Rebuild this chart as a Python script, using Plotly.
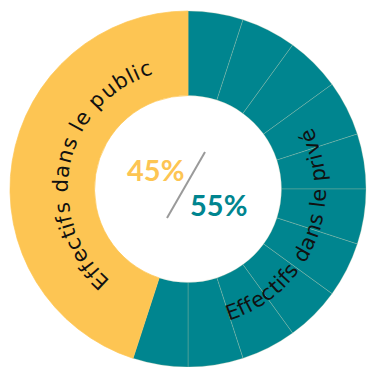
import plotly.graph_objects as go
import math

# ---- data ----
segment_labels = ["Privé 1", "Privé 2", "Privé 3", "Privé 4", "Privé 5", "Privé 6",
                  "Privé 7", "Privé 8", "Privé 9", "Privé 10", "Privé 11", "Public"]
segment_values = [5, 5, 5, 5, 5, 5, 5, 5, 5, 5, 5, 45]
public_share = 45
private_share = 55
public_text = "Effectifs dans le public"
private_text = "Effectifs dans le privé"

# ---- style ----
W, H = 368, 367
TEAL = "#00858F"
YELLOW = "#FDC553"
dom_x = [10 / W, 366 / W]
dom_y = [0.0, 356 / H]
cx = (dom_x[0] + dom_x[1]) / 2 * W
cy = (1 - (dom_y[0] + dom_y[1]) / 2) * H

colors = [TEAL if l != "Public" else YELLOW for l in segment_labels]
line_colors = ["rgba(185,200,170,0.4)" if l != "Public" else YELLOW for l in segment_labels]

fig = go.Figure(go.Pie(
    labels=segment_labels, values=segment_values, sort=False, direction="clockwise",
    rotation=0, hole=0.525, textinfo="none", hoverinfo="skip",
    marker=dict(colors=colors, line=dict(color=line_colors, width=0.7)),
    domain=dict(x=dom_x, y=dom_y), showlegend=False,
))

# approximate glyph advance widths (em)
WID = {"E": .632, "f": .352, "e": .615, "c": .550, "t": .392, "i": .278, "s": .521,
       " ": .318, "d": .635, "a": .613, "n": .634, "l": .278, "p": .635, "u": .634,
       "b": .635, "r": .411, "v": .592, "é": .615}

annotations = []

def arc_text(text, r, th0, th1, tops_out, size):
    w = [WID.get(ch, .6) for ch in text]
    centers = []
    acc = 0
    for wi in w:
        centers.append(acc + wi / 2)
        acc += wi
    c0, c1 = centers[0], centers[-1]
    for ch, c in zip(text, centers):
        th = th0 + (th1 - th0) * (c - c0) / (c1 - c0)
        t = math.radians(th)
        px = cx + r * math.sin(t)
        py = cy - r * math.cos(t)
        ang = th if tops_out else th + 180
        ang = ((ang + 180) % 360) - 180
        if ch == " ":
            continue
        annotations.append(dict(
            x=px / W, y=1 - py / H, xref="paper", yref="paper", text=ch,
            showarrow=False, textangle=ang, xanchor="center", yanchor="middle",
            font=dict(family="DejaVu Sans", size=size, color="#111111"),
        ))

arc_text(public_text, 127, 223.5, 340.6, True, 21)
arc_text(private_text, 131, 160.2, 66.4, False, 21)

annotations.append(dict(x=155 / W, y=1 - 169 / H, xref="paper", yref="paper",
                        text=f"<b>{public_share}%</b>", showarrow=False,
                        xanchor="center", yanchor="middle",
                        font=dict(family="Lato", size=29, color=YELLOW)))
annotations.append(dict(x=218 / W, y=1 - 204 / H, xref="paper", yref="paper",
                        text=f"<b>{private_share}%</b>", showarrow=False,
                        xanchor="center", yanchor="middle",
                        font=dict(family="Lato", size=29, color=TEAL)))

fig.update_layout(
    width=W, height=H, margin=dict(l=0, r=0, t=0, b=0),
    paper_bgcolor="white", plot_bgcolor="white",
    annotations=annotations,
    shapes=[dict(type="line", xref="paper", yref="paper",
                 x0=205 / W, y0=1 - 152 / H, x1=167 / W, y1=1 - 218 / H,
                 line=dict(color="#9a9a9a", width=2))],
)

fig.write_html("out.html", config={"displayModeBar": False},
               post_script="document.body.style.margin='0';document.body.style.overflow='hidden';")
